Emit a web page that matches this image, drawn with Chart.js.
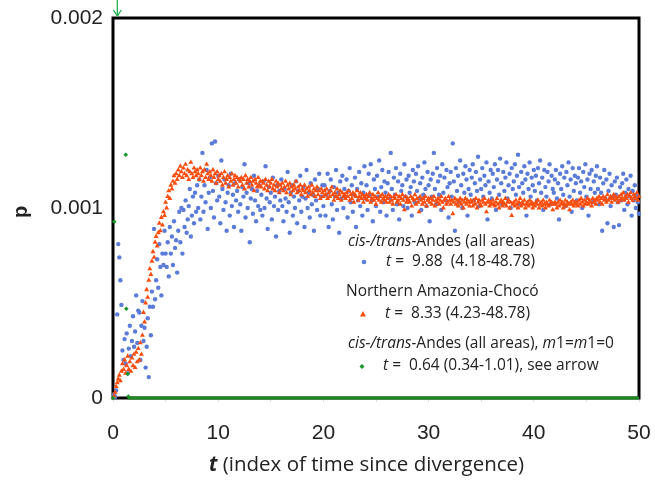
<!DOCTYPE html>
<html lang="en">
<head>
    <meta charset="UTF-8">
    <title>p vs t</title>
    <style>
        html, body {margin: 0; padding: 0; overflow: hidden; background: #fff;}
        .chart-wrap {width: 655px; height: 489px; position: relative;}
        #myChart {display: block;}
    </style>
</head>
<body>
    <div class="chart-wrap">
        <canvas id="myChart"></canvas>
    </div>

    <script src="https://cdn.jsdelivr.net/npm/chart.js@4.4.1/dist/chart.umd.min.js"></script>
    <script>

// p values in units of 1e-6, one every 0.1 of t (t = 0.1 ... 50.0)
const pBlue = [
    20, 5, 40, 440, 810, 740, 620, 490, 250, 200, 310, 180, 340, 130, 260, 380, 220, 300, 430, 270,
    350, 540, 290, 460, 450, 200, 380, 510, 300, 370, 160, 270, 420, 110, 480, 330, 560, 480, 890, 520,
    620, 730, 580, 810, 690, 540, 760, 700, 880, 760, 690, 820, 640, 900, 760, 850, 700, 930, 790, 830,
    660, 880, 980, 820, 1000, 760, 990, 900, 1040, 870, 940, 1010, 1100, 850, 960, 1060, 920, 1080, 980, 1120,
    1000, 1150, 940, 1060, 1290, 980, 1120, 1030, 1200, 890, 1080, 1160, 1000, 1340, 1090, 950, 1350, 1130, 1040, 1170,
    1060, 920, 1250, 1100, 990, 1150, 1030, 880, 1080, 1120, 960, 1180, 1010, 1070, 900, 1130, 1040, 1090, 980, 1150,
    1020, 880, 1110, 1060, 1230, 950, 1080, 1000, 1130, 820, 1050, 1100, 970, 1170, 1040, 930, 1090, 1010, 1120, 990,
    1070, 960, 1140, 1000, 1220, 1050, 890, 1110, 1030, 1080, 940, 1160, 1010, 1060, 850, 1120, 990, 1090, 1040, 1150,
    1010, 930, 1100, 1050, 980, 1190, 1030, 870, 1080, 1120, 960, 1060, 1000, 1140, 920, 1090, 1040, 1170, 980, 1060,
    1110, 900, 1050, 1200, 1000, 1080, 950, 1130, 1020, 1070, 880, 1150, 1040, 990, 1100, 1180, 960, 1060, 1120, 1010,
    1120, 960, 1070, 1180, 900, 1090, 1150, 1020, 940, 1110, 1060, 1200, 990, 1080, 870, 1140, 1050, 1170, 1000, 1100,
    1060, 1150, 950, 1090, 1210, 1030, 1120, 980, 1070, 1160, 900, 1100, 1040, 1190, 1010, 1130, 960, 1080, 1220, 1050,
    1120, 990, 1180, 1070, 1230, 1040, 930, 1150, 1100, 1010, 1170, 1060, 1250, 980, 1110, 1200, 1030, 1140, 1080, 960,
    1130, 1190, 1050, 1290, 1100, 990, 1160, 1070, 1210, 1020, 1140, 940, 1180, 1090, 1120, 1010, 1230, 1060, 1150, 1000,
    1170, 1080, 1110, 960, 1200, 1140, 1030, 1180, 1090, 1220, 1050, 1130, 990, 1160, 1070, 1240, 1100, 1010, 1190, 1120,
    930, 1150, 1060, 1180, 1290, 1100, 1020, 1210, 1140, 1070, 1170, 990, 1230, 1080, 1160, 1040, 1200, 1110, 950, 1130,
    1190, 1060, 1340, 1140, 880, 1210, 1090, 1170, 1030, 1250, 1120, 1000, 1180, 1080, 1220, 1150, 960, 1100, 1200, 1070,
    1160, 1230, 1040, 1130, 1190, 1090, 1270, 1010, 1150, 1100, 1210, 1060, 1170, 1120, 1240, 940, 1140, 1080, 1200, 1050,
    1180, 1110, 1230, 990, 1150, 1200, 1070, 1260, 1130, 1020, 1190, 1090, 1160, 1240, 1050, 1120, 1180, 1000, 1210, 1100,
    1140, 1230, 1070, 1170, 1280, 1110, 1020, 1190, 1130, 1080, 1220, 1150, 960, 1180, 1100, 1240, 1060, 1160, 1120, 1200,
    1090, 1170, 1040, 1210, 1130, 1250, 1080, 1160, 990, 1200, 1110, 1060, 1190, 1140, 1230, 1020, 1170, 1100, 1080, 1150,
    1200, 1050, 1130, 940, 1180, 1100, 1220, 1070, 1160, 1010, 1190, 1120, 1240, 1060, 1150, 980, 1210, 1090, 1170, 1130,
    1040, 1160, 1210, 1080, 1140, 1000, 1190, 1110, 1230, 1060, 1150, 960, 1180, 1100, 1200, 1030, 1140, 1080, 1170, 1220,
    1100, 1020, 1160, 1080, 880, 1130, 1200, 1050, 1150, 920, 1090, 1180, 1010, 1120, 1060, 900, 1140, 1070, 1160, 1030,
    910, 1110, 1040, 1130, 1180, 990, 1080, 1150, 1020, 1100, 1060, 1170, 960, 1090, 1040, 1120, 1000, 1070, 1030, 970
];

const pOrange = [
    10, 30, 60, 80, 100, 120, 90, 140, 180, 150, 200, 130, 170, 220, 150, 190, 140, 210, 170, 230,
    160, 240, 190, 260, 200, 290, 230, 330, 450, 400, 500, 570, 530, 620, 680, 650, 720, 770, 740, 820,
    850, 800, 870, 920, 880, 950, 910, 980, 960, 1030, 1000, 1060, 1090, 1050, 1120, 1100, 1140, 1170, 1130, 1180,
    1150, 1200, 1170, 1220, 1190, 1160, 1210, 1180, 1230, 1170, 1200, 1150, 1190, 1240, 1180, 1160, 1210, 1190, 1170, 1200,
    1180, 1150, 1210, 1170, 1190, 1140, 1200, 1160, 1230, 1180, 1150, 1190, 1170, 1140, 1200, 1160, 1180, 1130, 1190, 1150,
    1170, 1140, 1180, 1120, 1160, 1190, 1130, 1150, 1170, 1110, 1160, 1140, 1180, 1120, 1150, 1170, 1130, 1160, 1110, 1150,
    1140, 1160, 1120, 1150, 1100, 1170, 1130, 1150, 1110, 1140, 1160, 1120, 1140, 1090, 1150, 1130, 1110, 1160, 1120, 1140,
    1110, 1140, 1130, 1100, 1150, 1120, 1090, 1140, 1110, 1130, 1150, 1100, 1120, 1090, 1140, 1110, 1130, 1080, 1120, 1100,
    1130, 1090, 1110, 1140, 1080, 1120, 1100, 1130, 1070, 1110, 1090, 1120, 1100, 1140, 1080, 1110, 1090, 1120, 1070, 1100,
    1090, 1120, 1080, 1100, 1060, 1110, 1090, 1070, 1120, 1080, 1100, 1060, 1090, 1110, 1070, 1090, 1050, 1100, 1080, 1060,
    1090, 1070, 1100, 1050, 1080, 1060, 1090, 1110, 1070, 1040, 1080, 1060, 1100, 1050, 1070, 1090, 1040, 1080, 1060, 1070,
    1050, 1080, 1060, 1090, 1040, 1070, 1050, 1080, 1030, 1070, 1060, 1090, 1040, 1060, 1080, 1050, 1070, 1030, 1060, 1050,
    1070, 1040, 1060, 1080, 1030, 1050, 1070, 1040, 1060, 1020, 1050, 1080, 1040, 1060, 1030, 1070, 1050, 1040, 1060, 1030,
    1050, 1070, 1030, 1060, 1040, 1020, 1060, 1050, 1070, 1030, 1040, 1060, 1020, 1050, 1070, 1040, 990, 1060, 1030, 1050,
    1040, 1030, 1060, 1010, 1050, 1040, 1070, 1020, 1050, 1030, 980, 1060, 1040, 1020, 1050, 1030, 1060, 1010, 1040, 1050,
    1030, 1050, 1020, 1040, 1060, 1010, 1040, 1030, 1050, 1020, 1040, 1060, 1030, 1000, 1040, 1050, 1020, 1030, 1060, 1040,
    1020, 1040, 970, 1030, 1050, 1020, 1040, 1010, 1030, 1050, 1020, 1040, 1000, 1030, 1050, 1020, 1040, 1030, 1010, 1040,
    1030, 1010, 1040, 1020, 1050, 1000, 1030, 1040, 1020, 1010, 1040, 1030, 1050, 1020, 980, 1030, 1040, 1010, 1030, 1020,
    1040, 1020, 1010, 1030, 1050, 1020, 1000, 1030, 1040, 1010, 1030, 1020, 1050, 1010, 1030, 1040, 1000, 1030, 960, 1020,
    1030, 1010, 1040, 1020, 1000, 1030, 1050, 1010, 1030, 1020, 1040, 1000, 1020, 1030, 1010, 1040, 1020, 1030, 1000, 1020,
    1010, 1030, 1020, 1040, 1000, 1020, 1030, 1010, 1040, 1020, 1000, 1030, 1020, 1010, 1040, 1020, 1030, 990, 1020, 1030,
    1020, 1000, 1030, 1010, 1040, 1020, 1030, 1000, 1020, 1040, 1010, 1030, 1020, 990, 1030, 1020, 1040, 1010, 1030, 1020,
    1030, 1010, 1040, 1020, 1050, 1030, 1010, 1040, 1020, 1030, 1050, 1020, 1040, 1030, 1010, 1050, 1030, 1040, 1020, 1050,
    1040, 1060, 1030, 1050, 1020, 1060, 1040, 1050, 1030, 1070, 1040, 1050, 1060, 1030, 1050, 1070, 1040, 1060, 1050, 1030,
    1060, 1040, 1070, 1050, 1080, 1040, 1060, 1050, 1070, 1030, 1060, 1080, 1050, 1040, 1070, 1060, 1050, 1080, 1040, 1060
];

// green series (m1 = m2 = 0): a few points, then zero for the rest of t
const tGreen = [0.0, 0.12, 1.21, 1.27, 1.40, 1.46];
const pGreen = [0, 928, 1280, 470, 126, 8];
const tGreenZero = [1.4, 50];
const pGreenZero = [0, 0];
const arrowT = 0.41;

const xTicks = [0, 10, 20, 30, 40, 50];
const yTicks = [0, 0.001, 0.002];

const MICRO = 1e-6;
const toPoints = (ts, ps) => ps.map((p, i) => ({x: ts[i], y: p * MICRO}));
const tGrid = pBlue.map((_, i) => (i + 1) / 10);

const BLUE = '#5b7bd9';
const ORANGE = '#fa4d0c';
const GREEN = '#17962a';

function drawRuns(ctx, x, y, runs, size) {
    runs.forEach(function(r) {
        ctx.font = r[1] + ' ' + size + 'px "Open Sans"';
        ctx.fillText(r[0], x, y);
        x += ctx.measureText(r[0]).width;
    });
}

const extras = {
    id: 'extras',
    beforeDatasetsDraw(chart) {
        const {ctx, chartArea: a} = chart;
        ctx.save();
        ctx.strokeStyle = '#000';
        ctx.lineWidth = 3;
        ctx.strokeRect(a.left, a.top, a.right - a.left, a.bottom - a.top);
        ctx.restore();
    },
    afterDraw(chart) {
        const {ctx, chartArea: a, scales} = chart;
        ctx.save();
        ctx.fillStyle = '#222';
        ctx.textBaseline = 'middle';
        ctx.textAlign = 'left';

        // legend text
        const L = a.left;
        const fs = 15.5;
        drawRuns(ctx, L + 235, 242, [['cis-/trans-', 'italic'], ['Andes (all areas)', 'normal']], fs);
        drawRuns(ctx, L + 273, 262, [['t', 'italic'], [' =  9.88  (4.18-48.78)', 'normal']], fs);
        drawRuns(ctx, L + 233, 292, [['Northern Amazonia-Chocó', 'normal']], fs);
        drawRuns(ctx, L + 272, 314, [['t', 'italic'], [' =  8.33 (4.23-48.78)', 'normal']], fs);
        drawRuns(ctx, L + 235, 344, [['cis-/trans-', 'italic'], ['Andes (all areas), ', 'normal'],
            ['m', 'italic'], ['1=', 'normal'], ['m', 'italic'], ['1=0', 'normal']], fs);
        drawRuns(ctx, L + 270, 366, [['t', 'italic'], [' =  0.64 (0.34-1.01), see arrow', 'normal']], fs);

        // legend markers
        ctx.fillStyle = BLUE;
        ctx.beginPath(); ctx.arc(L + 251, 262, 2.3, 0, Math.PI * 2); ctx.fill();
        ctx.fillStyle = ORANGE;
        ctx.beginPath(); ctx.moveTo(L + 250, 311); ctx.lineTo(L + 253, 316.5); ctx.lineTo(L + 247, 316.5); ctx.closePath(); ctx.fill();
        ctx.fillStyle = GREEN;
        ctx.beginPath(); ctx.moveTo(L + 249, 364); ctx.lineTo(L + 251.5, 366.5); ctx.lineTo(L + 249, 369); ctx.lineTo(L + 246.5, 366.5); ctx.closePath(); ctx.fill();

        // axis titles
        ctx.fillStyle = '#222';
        drawRuns(ctx, 209, 465, [['t', 'bold italic'], [' (index of time since divergence)', 'normal']], 20.5);
        ctx.translate(21, 212);
        ctx.rotate(-Math.PI / 2);
        ctx.textAlign = 'center';
        ctx.font = 'bold 20px "Liberation Sans"';
        ctx.fillText('p', 0, 0);
        ctx.setTransform(1, 0, 0, 1, 0, 0);

        // arrow pointing at t estimate
        const ax = scales.x.getPixelForValue(arrowT);
        ctx.strokeStyle = '#22b24e';
        ctx.lineWidth = 1.3;
        ctx.beginPath(); ctx.moveTo(ax, 0); ctx.lineTo(ax, a.top - 3); ctx.stroke();
        ctx.beginPath(); ctx.moveTo(ax - 4, a.top - 8); ctx.lineTo(ax, a.top - 2); ctx.lineTo(ax + 4, a.top - 8); ctx.stroke();
        ctx.restore();
    }
};

const ctx = document.getElementById('myChart').getContext('2d');

const config = {
    type: 'scatter',
    plugins: [extras],
    data: {
        datasets: [
            {
                label: 'green zero',
                type: 'line',
                data: toPoints(tGreenZero, pGreenZero),
                borderColor: '#1a8a1f',
                borderWidth: 3,
                pointRadius: 0,
                clip: false,
                order: 0
            },
            {
                label: 'cis-/trans-Andes (all areas), m1=m1=0',
                data: toPoints(tGreen, pGreen),
                backgroundColor: GREEN,
                borderWidth: 0,
                pointStyle: 'rectRot',
                pointRadius: 2.3,
                clip: false,
                order: 1
            },
            {
                label: 'Northern Amazonia-Chocó',
                data: toPoints(tGrid, pOrange),
                backgroundColor: ORANGE,
                borderWidth: 0,
                pointStyle: 'triangle',
                pointRadius: 2.9,
                clip: false,
                order: 2
            },
            {
                label: 'cis-/trans-Andes (all areas)',
                data: toPoints(tGrid, pBlue),
                backgroundColor: BLUE,
                borderWidth: 0,
                pointRadius: 2.2,
                clip: false,
                order: 3
            }
        ]
    },
    options: {
        responsive: true,
        maintainAspectRatio: false,
        animation: false,
        layout: {padding: {left: 0, top: 18, right: 16, bottom: 0}},
        plugins: {legend: {display: false}, tooltip: {enabled: false}},
        scales: {
            x: {
                type: 'linear',
                min: 0,
                max: 50,
                afterFit: function(s) {
                    s.height = 91;
                    s.paddingLeft = 0;
                    s.paddingRight = 0;
                },
                afterBuildTicks: function(s) {
                    const t = [];
                    for (let v = 0; v <= 50; v += 5) t.push({value: v});
                    s.ticks = t;
                },
                border: {display: false},
                grid: {drawOnChartArea: false, drawTicks: true, tickLength: 4, color: '#ddd'},
                ticks: {
                    autoSkip: false,
                    maxRotation: 0,
                    padding: 19,
                    color: '#222',
                    font: {family: '"Liberation Sans"', size: 21},
                    callback: function(v) { return xTicks.includes(v) ? String(v) : ''; }
                }
            },
            y: {
                type: 'linear',
                min: 0,
                max: 0.002,
                afterFit: function(s) {
                    s.width = 113;
                    s.paddingTop = 0;
                    s.paddingBottom = 0;
                },
                afterBuildTicks: function(s) { s.ticks = yTicks.map(v => ({value: v})); },
                border: {display: false},
                grid: {display: false, drawTicks: false},
                ticks: {
                    padding: 10,
                    color: '#222',
                    font: {family: '"Liberation Sans"', size: 21},
                    callback: function(v) { return String(v); }
                }
            }
        }
    }
};

const myChart = new Chart(ctx, config);
    </script>
</body>
</html>
